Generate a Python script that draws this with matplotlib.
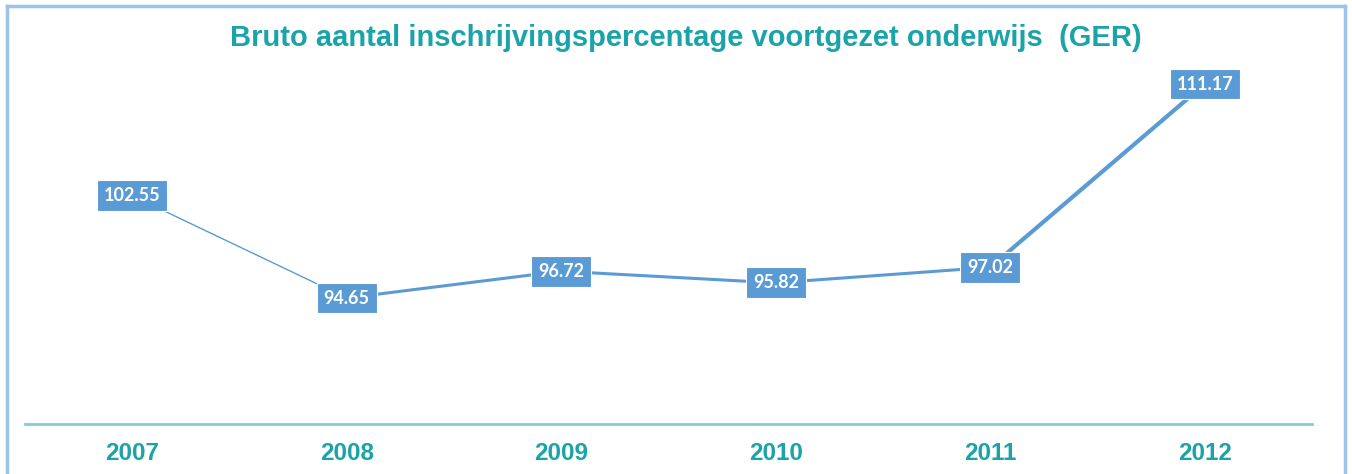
import numpy as np
import matplotlib.pyplot as plt
from matplotlib.lines import Line2D

years = ["2007", "2008", "2009", "2010", "2011", "2012"]
ger = [102.55, 94.65, 96.72, 95.82, 97.02, 111.17]
seg_widths = [1.0, 2.2, 2.2, 2.2, 3.0]

line_col = "#5B9BD5"
teal = "#1AA3A8"

fig = plt.figure(figsize=(13.52, 4.74), dpi=100)
ax = fig.add_axes([25 / 1352, 50 / 474, 1287 / 1352, 364 / 474])

x = np.arange(len(years))
for i in range(len(x) - 1):
    ax.plot(x[i:i + 2], ger[i:i + 2], color=line_col, lw=seg_widths[i],
            solid_capstyle="round", zorder=2)

for xi, v in zip(x, ger):
    ax.text(xi, v, f"{v:.2f}", ha="center", va="center", color="white",
            fontsize=13, fontweight="bold", family="Lato", zorder=3,
            bbox=dict(boxstyle="square,pad=0.38", fc=line_col, ec="white", lw=0.8))

ax.set_xlim(-0.5, 5.5)
ax.set_ylim(84.92, 113.03)
for s in ["top", "right", "left"]:
    ax.spines[s].set_visible(False)
ax.spines["bottom"].set_color("#7ECFD2")
ax.spines["bottom"].set_linewidth(2)
ax.set_yticks([])
ax.set_xticks(x)
ax.set_xticklabels(years, fontsize=17.5, fontweight="bold", color=teal, family="Liberation Sans")
ax.tick_params(axis="x", length=0, pad=13)

fig.text(686 / 1352, 1 - 38 / 474, "Bruto aantal inschrijvingspercentage voortgezet onderwijs  (GER)",
         ha="center", va="center", fontsize=21, fontweight="bold", color=teal, family="Liberation Sans")

# light blue frame around the chart (bottom cut off)
fr = "#9DC3E6"
fig.add_artist(Line2D([7 / 1352, 7 / 1352], [0, 1 - 6 / 474], color=fr, lw=2.5))
fig.add_artist(Line2D([7 / 1352, 1345 / 1352], [1 - 6 / 474, 1 - 6 / 474], color=fr, lw=2.5))
fig.add_artist(Line2D([1345 / 1352, 1345 / 1352], [0, 1 - 6 / 474], color=fr, lw=2.5))

fig.savefig("out.png", dpi=100)
